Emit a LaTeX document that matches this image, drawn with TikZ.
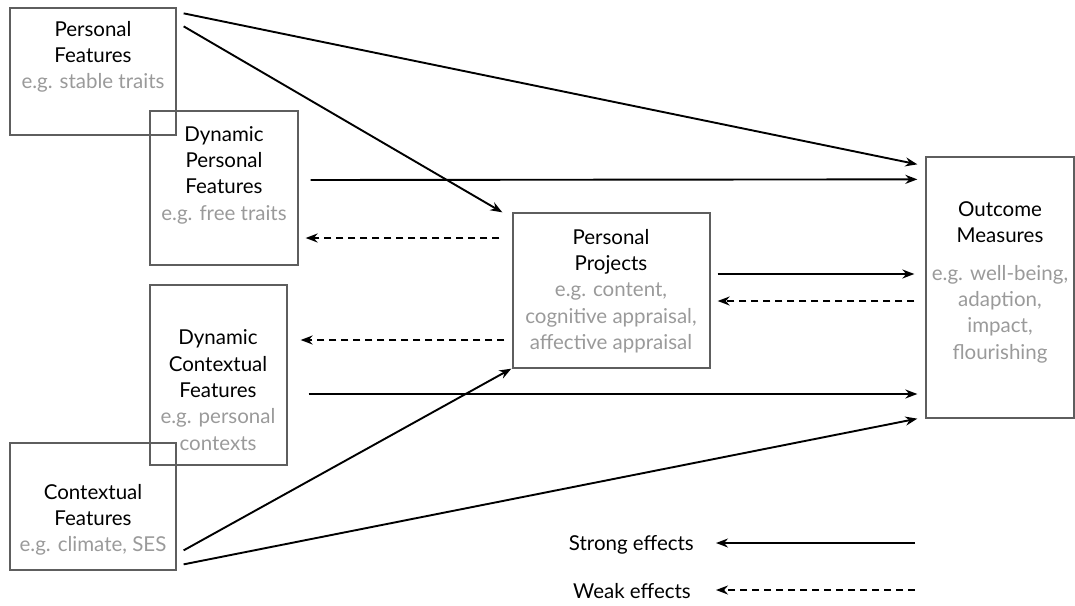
\documentclass[tikz,border=0pt]{standalone}
\usepackage{fontspec}
\setmainfont{Lato}
\usetikzlibrary{arrows.meta,calc}
\definecolor{boxline}{HTML}{5E5E5E}
\definecolor{note}{HTML}{9A9A9A}
\tikzset{
  box/.style={draw=boxline, line width=1.3pt, rectangle, inner sep=0pt},
  lbl/.style={align=center, font=\fontsize{20.5}{26.3}\selectfont, inner sep=0pt},
  strongfx/.style={line width=1.9pt, -{Stealth[length=12pt,width=9pt]}},
  weakfx/.style={line width=1.9pt, dash pattern=on 7pt off 5pt, -{Stealth[length=12pt,width=9pt]}},
}
\begin{document}
\begin{tikzpicture}[x=1pt,y=-1pt]
\useasboundingbox (0,0) rectangle (1075,605);

% boxes
\node[box, minimum width=166pt, minimum height=127pt] (pf)  at (93,71.5) {};
\node[box, minimum width=148pt, minimum height=154pt] (dpf) at (224,188) {};
\node[box, minimum width=137pt, minimum height=180pt] (dcf) at (218.5,375) {};
\node[box, minimum width=166pt, minimum height=127pt] (cf)  at (93,506.5) {};
\node[box, minimum width=197pt, minimum height=155pt] (pp)  at (611.5,290.5) {};
\node[box, minimum width=148pt, minimum height=261pt] (om)  at (1000,287.5) {};

% box texts
\node[lbl] (pft) at (93,57) {Personal\\Features\\\textcolor{note}{e.g. stable traits}};
\node[lbl] (dpft) at (224,175) {Dynamic\\Personal\\Features\\\textcolor{note}{e.g. free traits}};
\node[lbl] (dcft) at (218,390) {Dynamic\\Contextual\\Features\\\textcolor{note}{e.g. personal}\\\textcolor{note}{contexts}};
\node[lbl] (cft) at (93,520) {Contextual\\Features\\\textcolor{note}{e.g. climate, SES}};
\node[lbl] (ppt) at (611,291) {Personal\\Projects\\\textcolor{note}{e.g. content,}\\\textcolor{note}{cognitive appraisal,}\\\textcolor{note}{affective appraisal}};
\node[lbl] (omt1) at (1000,222.5) {Outcome\\Measures};
\node[lbl] (omt2) at (1000,314) {\textcolor{note}{e.g. well-being,}\\\textcolor{note}{adaption,}\\\textcolor{note}{impact,}\\\textcolor{note}{flourishing}};

% effects
\draw[strongfx] ($(pf.north east)+(7,6)$) -- ($(om.north west)+(-8,8)$);
\draw[strongfx] ($(pf.north east)+(7,19)$) -- ($(pp.north west)+(-10,0)$);
\draw[strongfx] ($(dpf.east)+(12,-8)$) -- ($(om.north west)+(-8,23)$);
\draw[weakfx]   ($(pp.west)+(-13,-52.5)$) -- ($(dpf.east)+(7,50)$);
\draw[strongfx] ($(pp.east)+(7,-16.5)$) -- ($(om.west)+(-11,-13.5)$);
\draw[weakfx]   ($(om.west)+(-11,13.5)$) -- ($(pp.east)+(7,10.5)$);
\draw[weakfx]   ($(pp.west)+(-8,49.5)$) -- ($(dcf.east)+(13,-35)$);
\draw[strongfx] ($(dcf.east)+(21,19)$) -- ($(om.west)+(-8,106.5)$);
\draw[strongfx] ($(cf.north east)+(7,108)$) -- ($(pp.south west)+(-1,0)$);
\draw[strongfx] ($(cf.north east)+(7,122)$) -- ($(om.south west)+(-8,0)$);

% legend
\node[lbl, anchor=east] (strong) at (694,545) {Strong effects};
\node[lbl, anchor=east] (weak)   at (691,591) {Weak effects};
\coordinate (sfrom) at (915,543);
\coordinate (wfrom) at (915,590);
\draw[strongfx] (sfrom) -- ($(strong.east)+(22,-2)$);
\draw[weakfx]   (wfrom) -- ($(weak.east)+(25,-1)$);
\end{tikzpicture}
\end{document}
